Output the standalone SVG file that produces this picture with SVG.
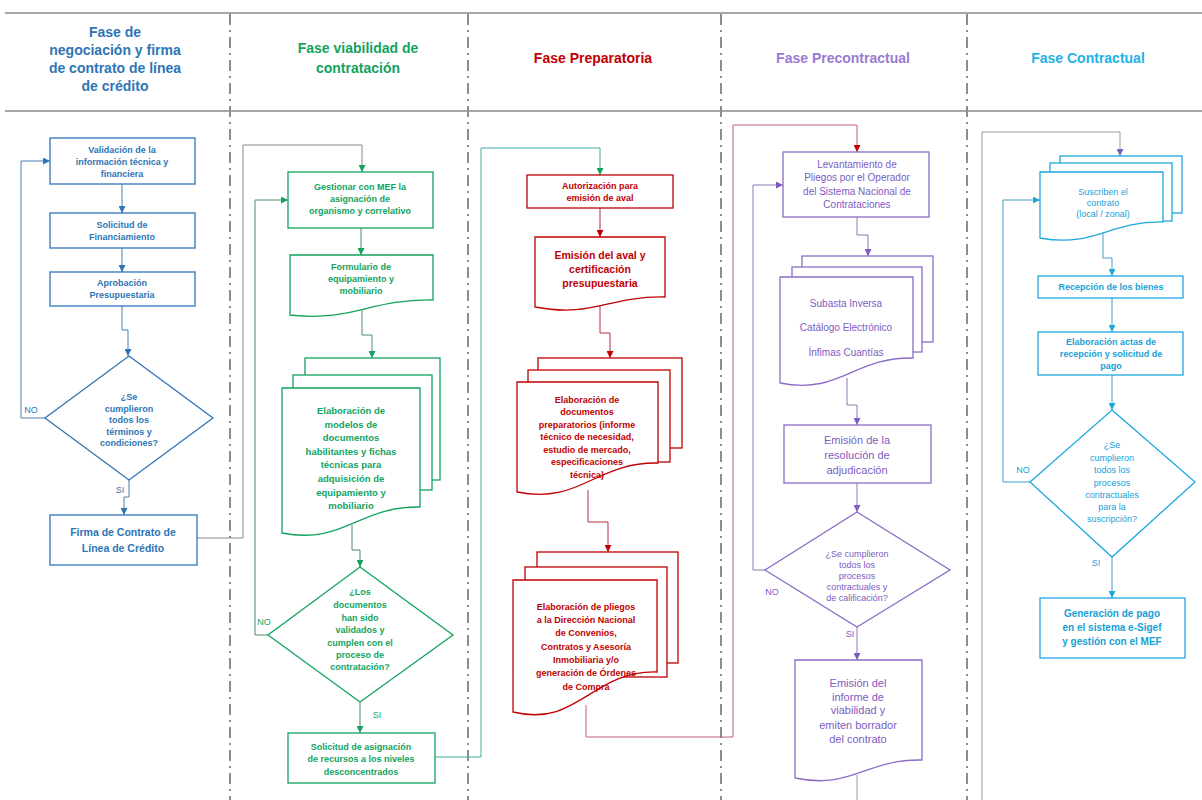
<svg xmlns="http://www.w3.org/2000/svg" width="1202" height="800" viewBox="0 0 1202 800">
<defs>
<style>
text{font-family:"Liberation Sans",Arial,sans-serif;text-anchor:middle}
.title{font-size:14px;font-weight:bold}
.t1{fill:#2e75b6}.t2{fill:#12a35e}.t3{fill:#c00000}.t4{fill:#7d5cc2}.t5{fill:#179fd6}
.s1{fill:#fff;stroke:#2e75b6;stroke-width:1.3}
.s2{fill:#fff;stroke:#12a35e;stroke-width:1.3}
.s3{fill:#fff;stroke:#c00000;stroke-width:1.3}
.s4{fill:#fff;stroke:#8b6cc6;stroke-width:1.3}
.s5{fill:#fff;stroke:#1ea8dc;stroke-width:1.3}
.b{font-weight:bold}
.f9{font-size:9px}.f95{font-size:9.5px}.f10{font-size:10px}.f105{font-size:10.5px}.f11{font-size:11px}
.lbl{font-size:9px}
.hdr{stroke:#a6a6a6;stroke-width:2;fill:none}
.div{stroke:#8c8c8c;stroke-width:2;fill:none;stroke-dasharray:11 5 2 5}
.cn{fill:none;stroke-width:1}
</style>
<marker id="aB" viewBox="0 0 10 10" refX="10" refY="5" markerWidth="7" markerHeight="7" markerUnits="userSpaceOnUse" orient="auto"><path d="M0,0 L10,5 L0,10 z" fill="#2e75b6"/></marker>
<marker id="aG" viewBox="0 0 10 10" refX="10" refY="5" markerWidth="7" markerHeight="7" markerUnits="userSpaceOnUse" orient="auto"><path d="M0,0 L10,5 L0,10 z" fill="#12a35e"/></marker>
<marker id="aR" viewBox="0 0 10 10" refX="10" refY="5" markerWidth="7" markerHeight="7" markerUnits="userSpaceOnUse" orient="auto"><path d="M0,0 L10,5 L0,10 z" fill="#c00000"/></marker>
<marker id="aP" viewBox="0 0 10 10" refX="10" refY="5" markerWidth="7" markerHeight="7" markerUnits="userSpaceOnUse" orient="auto"><path d="M0,0 L10,5 L0,10 z" fill="#7d5cc2"/></marker>
<marker id="aC" viewBox="0 0 10 10" refX="10" refY="5" markerWidth="7" markerHeight="7" markerUnits="userSpaceOnUse" orient="auto"><path d="M0,0 L10,5 L0,10 z" fill="#1ea8dc"/></marker>
</defs>
<rect x="0" y="0" width="1202" height="800" fill="#ffffff"/>

<g id="lanes">
<line class="hdr" x1="5" y1="13" x2="1202" y2="13"/>
<line class="hdr" x1="5" y1="111" x2="1202" y2="111"/>
<line class="div" x1="230" y1="14" x2="230" y2="800"/>
<line class="div" x1="468" y1="14" x2="468" y2="800"/>
<line class="div" x1="721" y1="14" x2="721" y2="800"/>
<line class="div" x1="967" y1="14" x2="967" y2="800"/>
<text class="title t1" x="115"><tspan x="115" y="37">Fase de</tspan><tspan x="115" y="55">negociación y firma</tspan><tspan x="115" y="73">de contrato de línea</tspan><tspan x="115" y="91">de crédito</tspan></text>
<text class="title t2" x="358"><tspan x="358" y="53">Fase viabilidad de</tspan><tspan x="358" y="73">contratación</tspan></text>
<text class="title t3" x="593" y="63">Fase Preparatoria</text>
<text class="title" x="843" y="63" fill="#9a7ad2">Fase Precontractual</text>
<text class="title" x="1088" y="63" fill="#1fb2e6">Fase Contractual</text>
</g>

<g id="connectors">
<path class="cn" stroke="#4a7fb5" d="M122,184 V213" marker-end="url(#aB)"/>
<path class="cn" stroke="#4a7fb5" d="M122,248 V272" marker-end="url(#aB)"/>
<path class="cn" stroke="#4a7fb5" d="M122,306 V330 H128 V356" marker-end="url(#aB)"/>
<path class="cn" stroke="#4a7fb5" d="M45,418 H21 V161 H50" marker-end="url(#aB)"/>
<path class="cn" stroke="#4a7fb5" d="M129,480 V497 H124 V515" marker-end="url(#aB)"/>
<path class="cn" stroke="#8a8a8a" d="M197,538 H243 V145 H362 V172" marker-end="url(#aG)"/>
<path class="cn" stroke="#4d8a6a" d="M361,228 V255" marker-end="url(#aG)"/>
<path class="cn" stroke="#4d8a6a" d="M362,308 V335 H372 V358" marker-end="url(#aG)"/>
<path class="cn" stroke="#4d8a6a" d="M352,525 V550 H360 V567" marker-end="url(#aG)"/>
<path class="cn" stroke="#4d8a6a" d="M268,635 H255 V200 H288" marker-end="url(#aG)"/>
<path class="cn" stroke="#4d8a6a" d="M360,702 V733" marker-end="url(#aG)"/>
<path class="cn" stroke="#3aaea0" d="M435,757 H481 V148 H600 V175" marker-end="url(#aG)"/>
<path class="cn" stroke="#b03040" d="M600,208 V237" marker-end="url(#aR)"/>
<path class="cn" stroke="#b03040" d="M600,300 V333 H610 V358" marker-end="url(#aR)"/>
<path class="cn" stroke="#b03040" d="M588,490 V522 H608 V552" marker-end="url(#aR)"/>
<path class="cn" stroke="#c0607a" d="M586,705 V737 H733 V125 H857 V152" marker-end="url(#aR)"/>
<path class="cn" stroke="#8a78b0" d="M857,217 V235 H868 V256" marker-end="url(#aP)"/>
<path class="cn" stroke="#8a78b0" d="M847,378 V405 H857 V425" marker-end="url(#aP)"/>
<path class="cn" stroke="#8a78b0" d="M857,483 V512" marker-end="url(#aP)"/>
<path class="cn" stroke="#8a78b0" d="M765,570 H753 V185 H783" marker-end="url(#aP)"/>
<path class="cn" stroke="#8a78b0" d="M857,627 V660" marker-end="url(#aP)"/>
<path class="cn" stroke="#9a9a9a" d="M857,775 V800"/>
<path class="cn" stroke="#9a9a9a" d="M982,800 V132 H1120 V156" marker-end="url(#aP)"/>
<path class="cn" stroke="#3aa0c8" d="M1103,232 V258 H1112 V276" marker-end="url(#aC)"/>
<path class="cn" stroke="#3aa0c8" d="M1112,298 V332" marker-end="url(#aC)"/>
<path class="cn" stroke="#3aa0c8" d="M1112,375 V410" marker-end="url(#aC)"/>
<path class="cn" stroke="#3aa0c8" d="M1030,482 H1003 V200 H1040" marker-end="url(#aC)"/>
<path class="cn" stroke="#3aa0c8" d="M1112,557 V598" marker-end="url(#aC)"/>
<text class="lbl t1" x="31" y="413">NO</text>
<text class="lbl t1" x="120" y="493">SI</text>
<text class="lbl t2" x="264" y="625">NO</text>
<text class="lbl t2" x="377" y="718">SI</text>
<text class="lbl t4" x="772" y="595">NO</text>
<text class="lbl t4" x="850" y="637">SI</text>
<text class="lbl t5" x="1023" y="473">NO</text>
<text class="lbl t5" x="1096" y="566">SI</text>
</g>

<g id="n-validacion">
<rect class="s1" x="50" y="138" width="145" height="46"/>
<text class="t1 b f9"><tspan x="122" y="153">Validación de la</tspan><tspan x="122" y="165">información técnica y</tspan><tspan x="122" y="177">financiera</tspan></text>
</g>
<g id="n-solicitud-fin">
<rect class="s1" x="50" y="213" width="145" height="35"/>
<text class="t1 b f9"><tspan x="122" y="228">Solicitud de</tspan><tspan x="122" y="240">Financiamiento</tspan></text>
</g>
<g id="n-aprobacion">
<rect class="s1" x="50" y="272" width="145" height="34"/>
<text class="t1 b f9"><tspan x="122" y="286">Aprobación</tspan><tspan x="122" y="298">Presupuestaria</tspan></text>
</g>
<g id="n-dec1">
<polygon class="s1" points="129,356 213,418 129,480 45,418"/>
<text class="t1 b f9"><tspan x="129" y="400">¿Se</tspan><tspan x="129" y="411.5">cumplieron</tspan><tspan x="129" y="423">todos los</tspan><tspan x="129" y="434.5">términos y</tspan><tspan x="129" y="446">condiciones?</tspan></text>
</g>
<g id="n-firma">
<rect class="s1" x="50" y="515" width="147" height="50" stroke-width="2.5"/>
<text class="t1 b f105"><tspan x="123" y="536">Firma de Contrato de</tspan><tspan x="123" y="552">Línea de Crédito</tspan></text>
</g>

<g id="n-gestionar">
<rect class="s2" x="288" y="172" width="145" height="56"/>
<text class="t2 b f9"><tspan x="360" y="190">Gestionar con MEF la</tspan><tspan x="360" y="202">asignación de</tspan><tspan x="360" y="214">organismo y correlativo</tspan></text>
</g>
<g id="n-formulario">
<path class="s2" d="M290,255 H433 V300 C369,299 354,322 290,315 Z"/>
<text class="t2 b f9"><tspan x="361" y="270">Formulario de</tspan><tspan x="361" y="282">equipamiento y</tspan><tspan x="361" y="294">mobiliario</tspan></text>
</g>
<g id="n-modelos">
<rect class="s2" x="305" y="358" width="135" height="122" stroke-width="2"/>
<rect class="s2" x="293" y="375" width="139" height="115" stroke-width="2"/>
<path class="s2" stroke-width="2" d="M282,388 H420 V507 C358,506 344,545 282,533 Z"/>
<text class="t2 b f95"><tspan x="351" y="414">Elaboración de</tspan><tspan x="351" y="428">modelos de</tspan><tspan x="351" y="441">documentos</tspan><tspan x="351" y="455">habilitantes y fichas</tspan><tspan x="351" y="468">técnicas para</tspan><tspan x="351" y="482">adquisición de</tspan><tspan x="351" y="496">equipamiento y</tspan><tspan x="351" y="509">mobiliario</tspan></text>
</g>
<g id="n-dec2">
<polygon class="s2" points="360,567 453,635 360,702 268,635"/>
<text class="t2 b f9"><tspan x="360" y="595">¿Los</tspan><tspan x="360" y="608">documentos</tspan><tspan x="360" y="621">han sido</tspan><tspan x="360" y="633">validados y</tspan><tspan x="360" y="646">cumplen con el</tspan><tspan x="360" y="658">proceso de</tspan><tspan x="360" y="670">contratación?</tspan></text>
</g>
<g id="n-solicitud-rec">
<rect class="s2" x="288" y="733" width="147" height="50"/>
<text class="t2 b f9"><tspan x="361" y="750">Solicitud de asignación</tspan><tspan x="361" y="762">de recursos a los niveles</tspan><tspan x="361" y="775">desconcentrados</tspan></text>
</g>

<g id="n-autorizacion">
<rect class="s3" x="527" y="175" width="146" height="33"/>
<text class="t3 b f9"><tspan x="600" y="189">Autorización para</tspan><tspan x="600" y="201">emisión de aval</tspan></text>
</g>
<g id="n-emision-aval">
<path class="s3" stroke="#a00000" stroke-width="3" d="M535,237 H665 V297 C607,296 593,318 535,307 Z"/>
<text class="t3 b f105"><tspan x="600" y="259">Emisión del aval y</tspan><tspan x="600" y="273">certificación</tspan><tspan x="600" y="287">presupuestaria</tspan></text>
</g>
<g id="n-docs-prep">
<rect class="s3" x="538" y="358" width="144" height="90"/>
<rect class="s3" x="528" y="370" width="142" height="92"/>
<path class="s3" d="M517,382 H658 V463 C595,462 580,505 517,492 Z"/>
<text class="t3 b f9"><tspan x="587" y="403">Elaboración de</tspan><tspan x="587" y="415">documentos</tspan><tspan x="587" y="428">preparatorios (informe</tspan><tspan x="587" y="440">técnico de necesidad,</tspan><tspan x="587" y="453">estudio de mercado,</tspan><tspan x="587" y="465">especificaciones</tspan><tspan x="587" y="478">técnica)</tspan></text>
</g>
<g id="n-pliegos">
<rect class="s3" x="537" y="552" width="141" height="111"/>
<rect class="s3" x="525" y="567" width="142" height="110"/>
<path class="s3" d="M513,580 H657 V672 C592,670 578,728 513,712 Z"/>
<text class="t3 b f9"><tspan x="586" y="610">Elaboración de pliegos</tspan><tspan x="586" y="623">a la Dirección Nacional</tspan><tspan x="586" y="636">de Convenios,</tspan><tspan x="586" y="650">Contratos y Asesoría</tspan><tspan x="586" y="663">Inmobiliaria y/o</tspan><tspan x="586" y="676">generación de Órdenes</tspan><tspan x="586" y="690">de Compra</tspan></text>
</g>

<g id="n-levantamiento">
<rect class="s4" x="783" y="152" width="146" height="65"/>
<text class="t4 f10"><tspan x="857" y="168">Levantamiento de</tspan><tspan x="857" y="181">Pliegos por el Operador</tspan><tspan x="857" y="195">del Sistema Nacional de</tspan><tspan x="857" y="208">Contrataciones</tspan></text>
</g>
<g id="n-procedimientos">
<rect class="s4" x="802" y="256" width="131" height="86"/>
<rect class="s4" x="792" y="267" width="130" height="85"/>
<path class="s4" d="M780,277 H913 V358 C853,357 840,395 780,383 Z"/>
<text class="t4 f10"><tspan x="846" y="307">Subasta Inversa</tspan><tspan x="846" y="331">Catálogo Electrónico</tspan><tspan x="846" y="356">Ínfimas Cuantías</tspan></text>
</g>
<g id="n-resolucion">
<rect class="s4" x="784" y="425" width="147" height="58" stroke-width="2"/>
<text class="t4 f11"><tspan x="857" y="444">Emisión de la</tspan><tspan x="857" y="459">resolución de</tspan><tspan x="857" y="474">adjudicación</tspan></text>
</g>
<g id="n-dec3">
<polygon class="s4" points="857,512 950,570 857,627 765,570"/>
<text class="t4 f9"><tspan x="857" y="557">¿Se cumplieron</tspan><tspan x="857" y="568">todos los</tspan><tspan x="857" y="579">procesos</tspan><tspan x="857" y="590">contractuales y</tspan><tspan x="857" y="601">de calificación?</tspan></text>
</g>
<g id="n-informe">
<path class="s4" stroke-width="3" d="M795,660 H922 V760 C865,759 852,790 795,778 Z"/>
<text class="t4 f11"><tspan x="858" y="687">Emisión del</tspan><tspan x="858" y="701">informe de</tspan><tspan x="858" y="714">viabilidad y</tspan><tspan x="858" y="729">emiten borrador</tspan><tspan x="858" y="743">del contrato</tspan></text>
</g>

<g id="n-suscriben">
<rect class="s5" x="1060" y="156" width="122" height="57"/>
<rect class="s5" x="1050" y="163" width="122" height="58"/>
<path class="s5" d="M1040,172 H1163 V222 C1108,221 1095,248 1040,238 Z"/>
<text class="t5 f9"><tspan x="1103" y="195">Suscriben el</tspan><tspan x="1103" y="206">contrato</tspan><tspan x="1103" y="217">(local / zonal)</tspan></text>
</g>
<g id="n-recepcion">
<rect class="s5" x="1038" y="276" width="145" height="22"/>
<text class="t5 b f9" x="1111" y="290">Recepción de los bienes</text>
</g>
<g id="n-actas">
<rect class="s5" x="1038" y="332" width="145" height="43"/>
<text class="t5 b f9"><tspan x="1111" y="345">Elaboración actas de</tspan><tspan x="1111" y="357">recepción y solicitud de</tspan><tspan x="1111" y="369">pago</tspan></text>
</g>
<g id="n-dec4">
<polygon class="s5" points="1112,410 1195,482 1112,557 1030,482"/>
<text class="t5 f9"><tspan x="1112" y="448">¿Se</tspan><tspan x="1112" y="461">cumplieron</tspan><tspan x="1112" y="473">todos los</tspan><tspan x="1112" y="486">procesos</tspan><tspan x="1112" y="498">contractuales</tspan><tspan x="1112" y="510">para la</tspan><tspan x="1112" y="522">suscripción?</tspan></text>
</g>
<g id="n-pago">
<rect class="s5" x="1040" y="598" width="145" height="60" stroke-width="2"/>
<text class="t5 b f10"><tspan x="1112" y="617">Generación de pago</tspan><tspan x="1112" y="631">en el sistema e-Sigef</tspan><tspan x="1112" y="645">y gestión con el MEF</tspan></text>
</g>
</svg>
